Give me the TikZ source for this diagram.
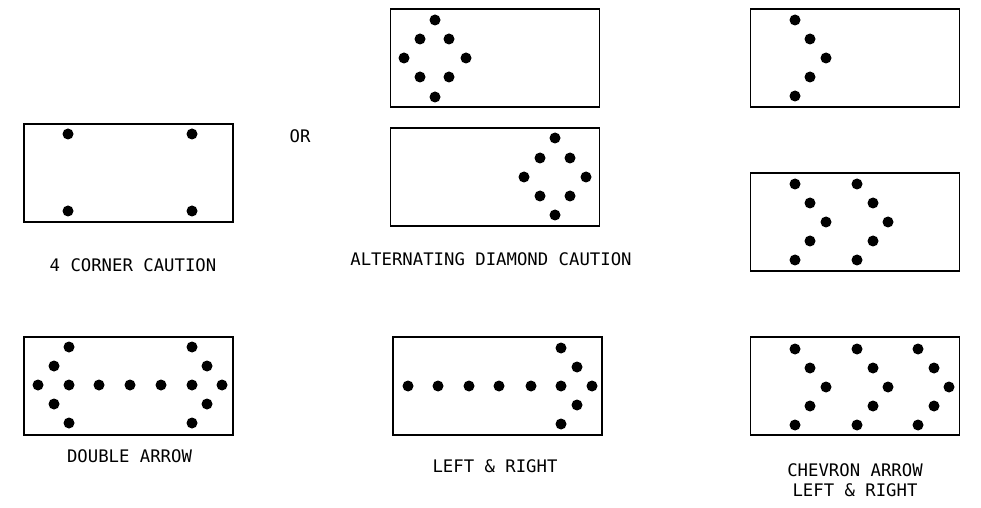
\documentclass[tikz,border=0pt]{standalone}
\usepackage{fontspec}
\setmonofont{DejaVu Sans Mono}

\begin{document}
\begin{tikzpicture}[
        x=10pt, y=10pt,
        spot/.style={circle, fill=black, inner sep=0pt, minimum size=11pt},
        panel/.style={rectangle, draw=black, line width=1.6pt, minimum width=209pt, minimum height=98pt, inner sep=0pt},
        lbl/.style={font=\ttfamily\fontsize{17.3}{20}\selectfont, inner sep=0pt, align=center},
    ]

    \useasboundingbox (0,0) rectangle (98.1,50.7);

    % 4 corner caution
    \node[panel] (p1) at (12.85,33.4) {};
    \node[spot] (1) at (6.8,37.3) {};
    \node[spot] (2) at (19.2,37.3) {};
    \node[spot] (3) at (6.8,29.6) {};
    \node[spot] (4) at (19.2,29.6) {};
    \node[lbl] (t1) at (13.3,24.2) {4 CORNER CAUTION};

    \node[lbl] (or) at (30.0,37.05) {OR};

    % alternating diamond, left
    \node[panel] (p2) at (49.5,44.9) {};
    \node[spot] (5) at (43.5,48.7) {};
    \node[spot] (6) at (42.0,46.8) {};
    \node[spot] (7) at (44.9,46.8) {};
    \node[spot] (8) at (40.4,44.9) {};
    \node[spot] (9) at (46.6,44.9) {};
    \node[spot] (10) at (42.0,43.0) {};
    \node[spot] (11) at (44.9,43.0) {};
    \node[spot] (12) at (43.5,41.0) {};

    % alternating diamond, right
    \node[panel] (p3) at (49.5,33.0) {};
    \node[spot] (13) at (55.5,36.9) {};
    \node[spot] (14) at (54.0,34.9) {};
    \node[spot] (15) at (57.0,34.9) {};
    \node[spot] (16) at (52.4,33.0) {};
    \node[spot] (17) at (58.6,33.0) {};
    \node[spot] (18) at (54.0,31.1) {};
    \node[spot] (19) at (57.0,31.1) {};
    \node[spot] (20) at (55.5,29.2) {};
    \node[lbl] (t2) at (49.1,24.8) {ALTERNATING DIAMOND CAUTION};

    % chevron, one
    \node[panel] (p4) at (85.5,44.9) {};
    \node[spot] (21) at (79.5,48.7) {};
    \node[spot] (22) at (81.0,46.8) {};
    \node[spot] (23) at (82.6,44.9) {};
    \node[spot] (24) at (81.0,43.0) {};
    \node[spot] (25) at (79.5,41.1) {};

    % chevron, two
    \node[panel] (p5) at (85.5,28.5) {};
    \node[spot] (26) at (79.5,32.3) {};
    \node[spot] (27) at (81.0,30.4) {};
    \node[spot] (28) at (82.6,28.5) {};
    \node[spot] (29) at (81.0,26.6) {};
    \node[spot] (30) at (79.5,24.7) {};
    \node[spot] (31) at (85.7,32.3) {};
    \node[spot] (32) at (87.3,30.4) {};
    \node[spot] (33) at (88.8,28.5) {};
    \node[spot] (34) at (87.3,26.6) {};
    \node[spot] (35) at (85.7,24.7) {};

    % double arrow
    \node[panel] (p6) at (12.85,12.1) {};
    \node[spot] (36) at (6.9,16.0) {};
    \node[spot] (37) at (5.4,14.1) {};
    \node[spot] (38) at (3.8,12.2) {};
    \node[spot] (39) at (6.9,12.2) {};
    \node[spot] (40) at (5.4,10.3) {};
    \node[spot] (41) at (6.9,8.4) {};
    \node[spot] (42) at (9.9,12.2) {};
    \node[spot] (43) at (13.0,12.2) {};
    \node[spot] (44) at (16.1,12.2) {};
    \node[spot] (45) at (19.2,16.0) {};
    \node[spot] (46) at (20.7,14.1) {};
    \node[spot] (47) at (19.2,12.2) {};
    \node[spot] (48) at (22.2,12.2) {};
    \node[spot] (49) at (20.7,10.3) {};
    \node[spot] (50) at (19.2,8.4) {};
    \node[lbl] (t3) at (12.95,5.05) {DOUBLE ARROW};

    % left & right
    \node[panel] (p7) at (49.75,12.1) {};
    \node[spot] (51) at (40.8,12.1) {};
    \node[spot] (52) at (43.8,12.1) {};
    \node[spot] (53) at (46.9,12.1) {};
    \node[spot] (54) at (49.9,12.1) {};
    \node[spot] (55) at (53.1,12.1) {};
    \node[spot] (56) at (56.1,12.1) {};
    \node[spot] (57) at (56.1,15.9) {};
    \node[spot] (58) at (57.7,14.0) {};
    \node[spot] (59) at (59.2,12.1) {};
    \node[spot] (60) at (57.7,10.2) {};
    \node[spot] (61) at (56.1,8.3) {};
    \node[lbl] (t4) at (49.5,4.1) {LEFT \& RIGHT};

    % chevron, three
    \node[panel] (p8) at (85.5,12.1) {};
    \node[spot] (62) at (79.5,15.8) {};
    \node[spot] (63) at (81.0,13.9) {};
    \node[spot] (64) at (82.6,12.0) {};
    \node[spot] (65) at (81.0,10.1) {};
    \node[spot] (66) at (79.5,8.2) {};
    \node[spot] (67) at (85.7,15.8) {};
    \node[spot] (68) at (87.3,13.9) {};
    \node[spot] (69) at (88.8,12.0) {};
    \node[spot] (70) at (87.3,10.1) {};
    \node[spot] (71) at (85.7,8.2) {};
    \node[spot] (72) at (91.8,15.8) {};
    \node[spot] (73) at (93.4,13.9) {};
    \node[spot] (74) at (94.9,12.0) {};
    \node[spot] (75) at (93.4,10.1) {};
    \node[spot] (76) at (91.8,8.2) {};
    \node[lbl] (t5) at (85.5,2.7) {CHEVRON ARROW\\LEFT \& RIGHT};
\end{tikzpicture}
\end{document}
